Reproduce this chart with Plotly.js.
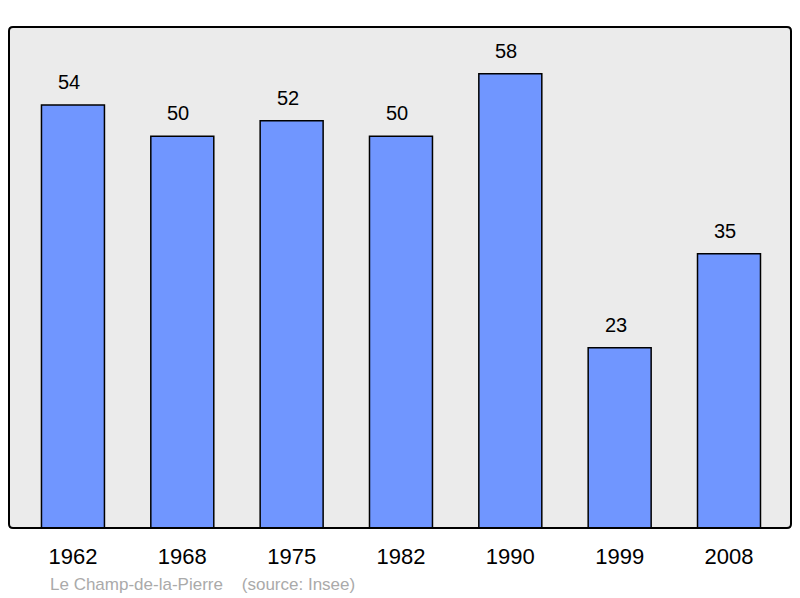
<!DOCTYPE html>
<html><head><meta charset="utf-8">
<script src="https://cdn.plot.ly/plotly-3.0.1.min.js"></script>
<style>body{margin:0;background:#fff}#c{width:800px;height:598px}</style>
</head><body><div id="c"></div>
<script>
const years = ['1962','1968','1975','1982','1990','1999','2008'];
const population = [54, 50, 52, 50, 58, 23, 35];
const sourceText = 'Le Champ-de-la-Pierre\u00a0\u00a0\u00a0\u00a0(source: Insee)';

const trace = {
  type: 'bar',
  x: years,
  y: population,
  width: 0.576,
  marker: {color: '#7096ff', line: {color: '#000', width: 1.5}},
  hoverinfo: 'none'
};
const labels = years.map((yr, i) => ({
  x: i, y: population[i], xref: 'x', yref: 'y',
  text: String(population[i]), showarrow: false,
  yanchor: 'bottom', yshift: 10, xshift: -4,
  font: {family: 'Liberation Sans, Arial, sans-serif', size: 20, color: '#000'}
}));
labels.push({
  xref: 'paper', yref: 'paper', x: 0.05, y: -0.112, xanchor: 'left', yanchor: 'middle',
  text: sourceText, showarrow: false,
  font: {family: 'Liberation Sans, Arial, sans-serif', size: 17, color: '#aaaaaa'}
});
// rounded border in paper coordinates (plot area 782 x 501 px, radius 4 px)
const W = 782, H = 501, r = 4;
const rx = r / W, ry = r / H;
const border = `M ${rx},1 L ${1-rx},1 Q 1,1 1,${1-ry} L 1,${ry} Q 1,0 ${1-rx},0 L ${rx},0 Q 0,0 0,${ry} L 0,${1-ry} Q 0,1 ${rx},1 Z`;
const layout = {
  width: 800, height: 598,
  margin: {l: 9, r: 9, t: 27, b: 70, pad: 0},
  paper_bgcolor: '#fff', plot_bgcolor: 'rgba(0,0,0,0)',
  showlegend: false,
  xaxis: {type: 'category', range: [-0.585, 6.567], showgrid: false, zeroline: false,
    showline: false, ticks: '', ticklabelstandoff: 13,
    tickfont: {family: 'Liberation Sans, Arial, sans-serif', size: 22, color: '#000'}},
  yaxis: {range: [0, 63.96], showgrid: false, zeroline: false, showticklabels: false, showline: false},
  shapes: [
    {type: 'path', xref: 'paper', yref: 'paper', path: border,
      fillcolor: '#ebebeb', line: {width: 0}, layer: 'below'},
    {type: 'path', xref: 'paper', yref: 'paper', path: border,
      line: {color: '#000', width: 2}, layer: 'above'}
  ],
  annotations: labels
};
Plotly.newPlot('c', [trace], layout, {staticPlot: true, displayModeBar: false});
</script></body></html>
